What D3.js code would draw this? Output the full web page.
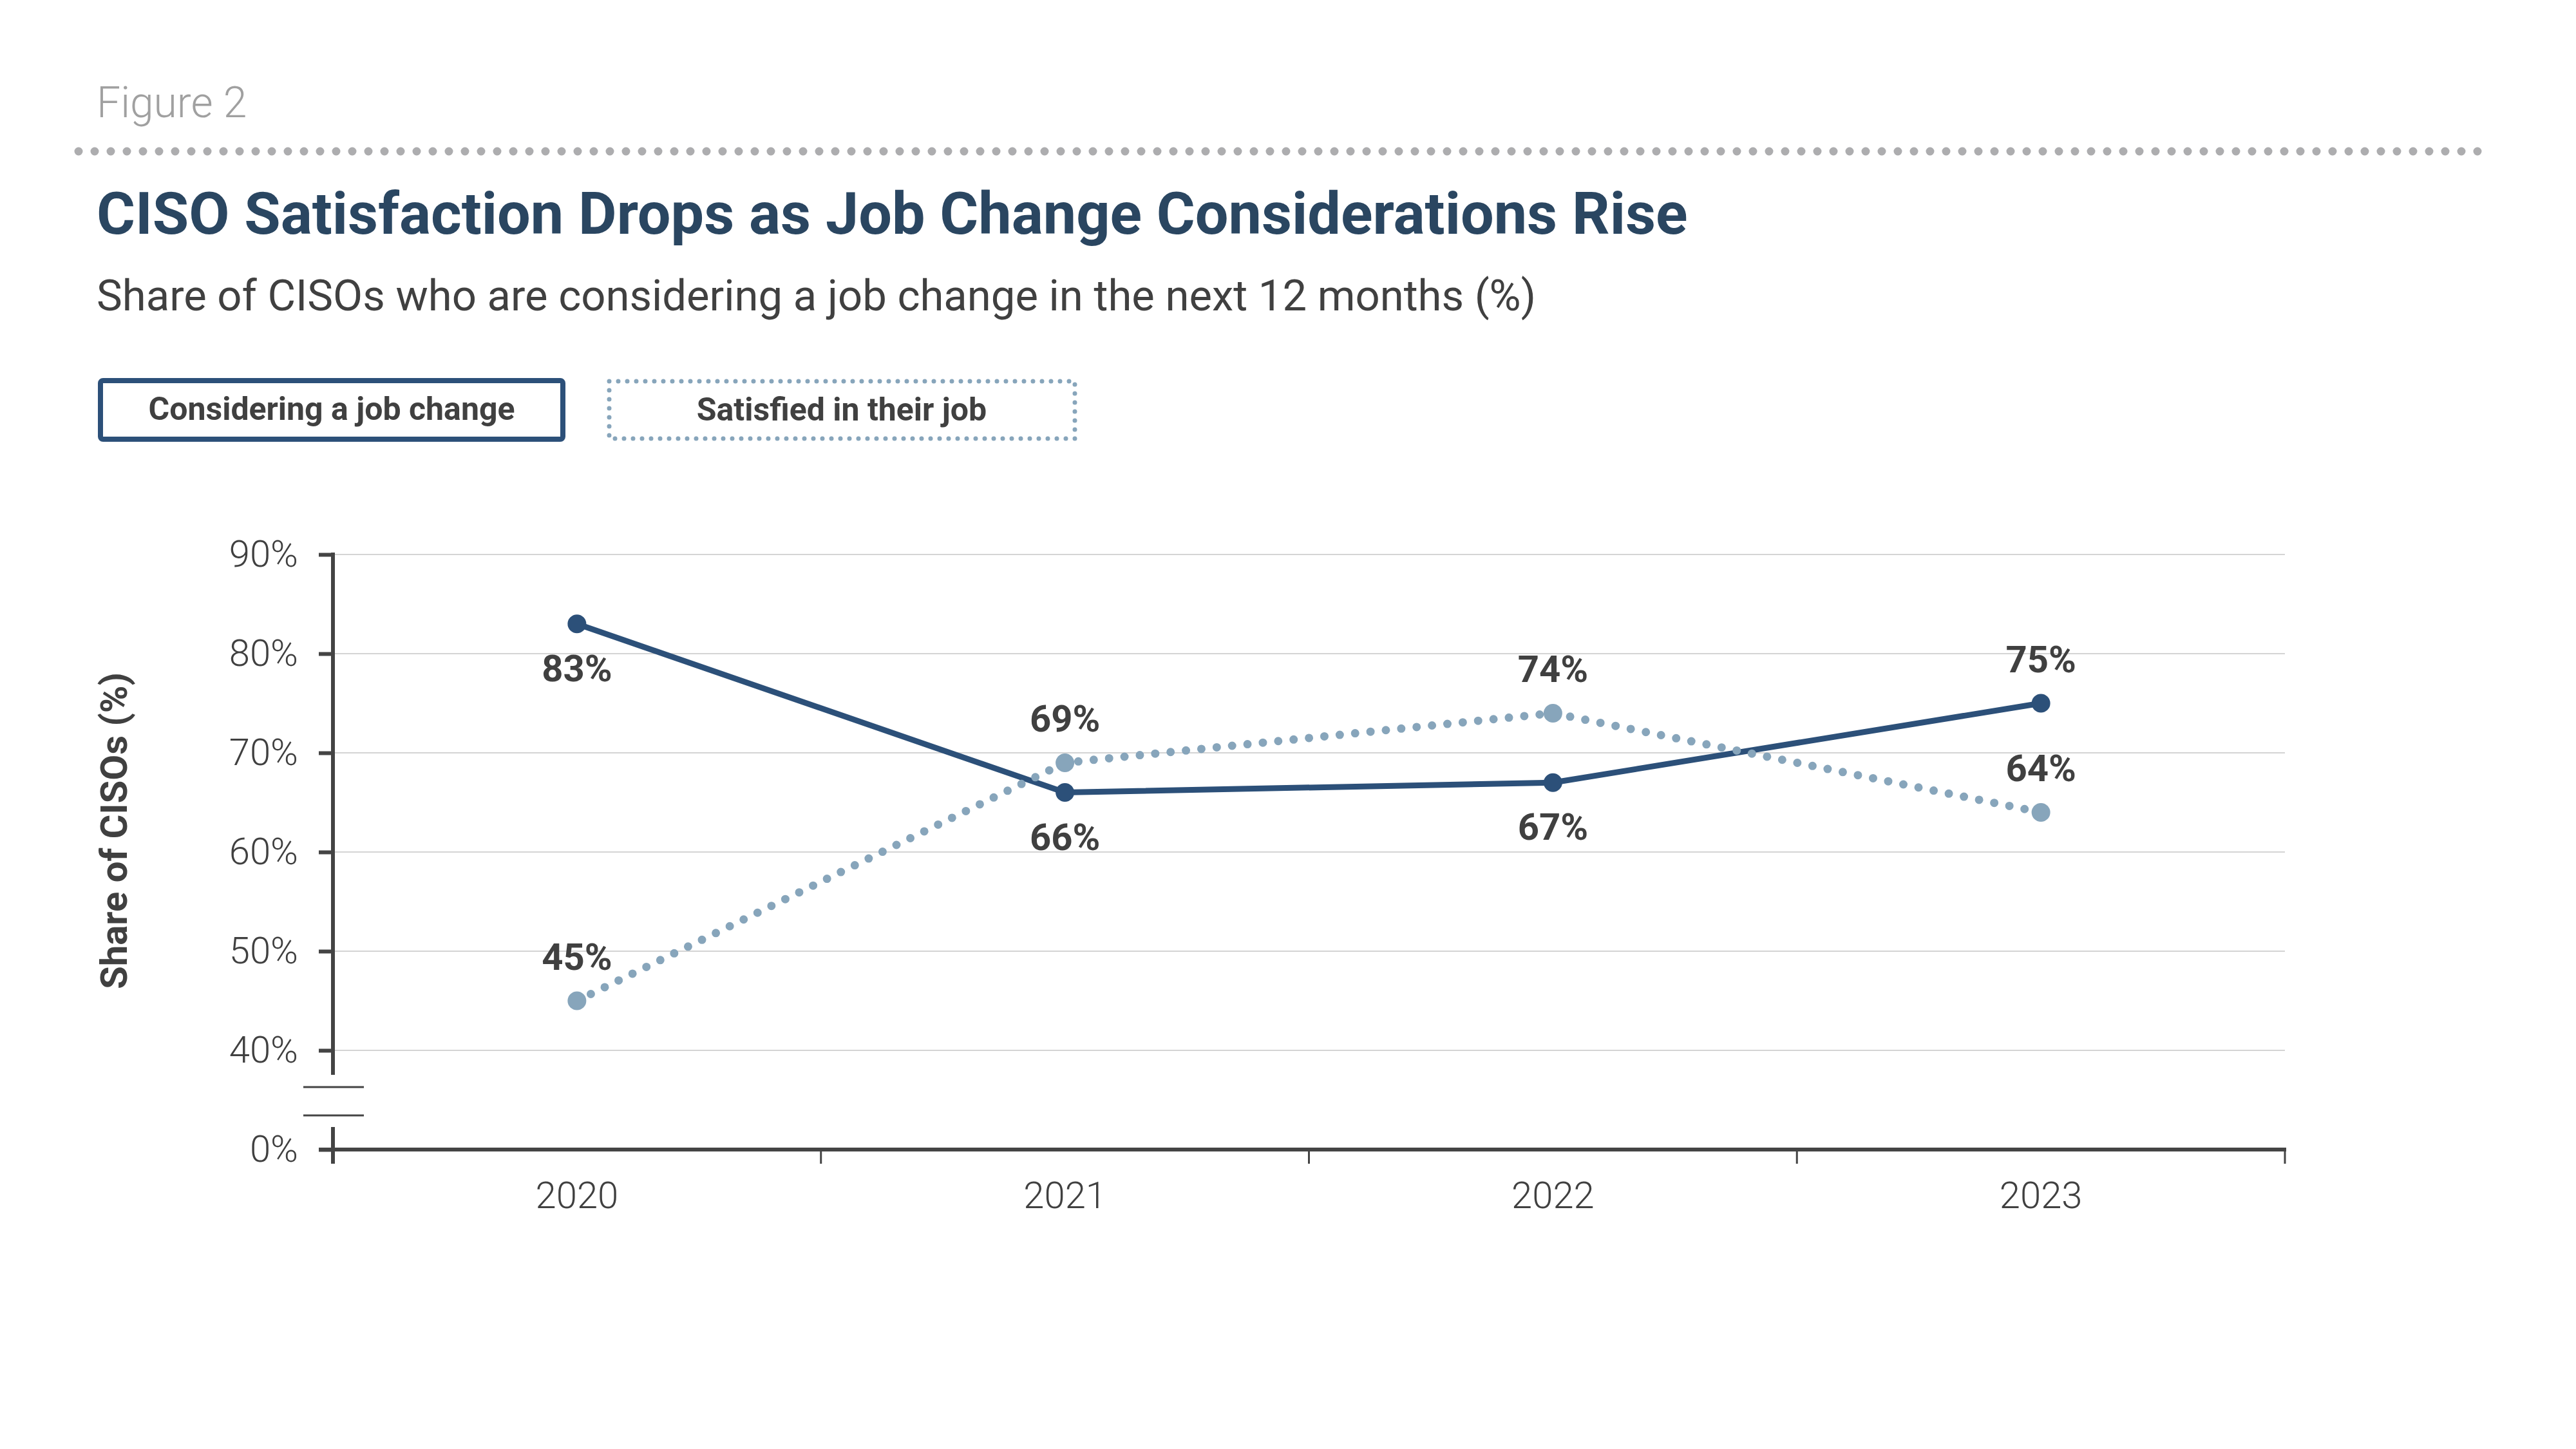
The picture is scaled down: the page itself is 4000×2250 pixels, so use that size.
<!DOCTYPE html>
<head>
<meta charset="utf-8">
<style>
body { margin: 0; background: #fff; }
text { font-family: Roboto, "Noto Sans", sans-serif; }
</style>
</head>
<body>
<script src="https://cdn.jsdelivr.net/npm/d3@7"></script>
<script>
// data
var years = ["2020", "2021", "2022", "2023"];
var considering = [83, 66, 67, 75];
var satisfied = [45, 69, 74, 64];
var yTickValues = [0, 40, 50, 60, 70, 80, 90];
var legendNames = ["Considering a job change", "Satisfied in their job"];

var width = 4000, height = 2250;
var navy = "#2c5079", light = "#87a5bb", ink = "#404040";

var svg = d3.select("body").append("svg")
    .attr("width", width)
    .attr("height", height);
svg.append("rect").attr("width", width).attr("height", height).attr("fill", "#fff");

// header
svg.append("text").attr("x", 150).attr("y", 182)
    .attr("font-size", 66).attr("font-weight", 300).attr("fill", "#a0a0a0")
    .text("Figure 2");
svg.append("line")
    .attr("x1", 122).attr("x2", 3850).attr("y1", 235).attr("y2", 235)
    .attr("stroke", "#adadaf").attr("stroke-width", 13)
    .attr("stroke-linecap", "round").attr("stroke-dasharray", "0 25");
svg.append("text").attr("x", 150).attr("y", 363)
    .attr("font-size", 91.7).attr("font-weight", 700).attr("fill", "#2a4661")
    .text("CISO Satisfaction Drops as Job Change Considerations Rise");
svg.append("text").attr("x", 150).attr("y", 482)
    .attr("font-size", 67).attr("font-weight", 400).attr("fill", ink)
    .text("Share of CISOs who are considering a job change in the next 12 months (%)");

// legend
var lg = svg.append("g");
lg.append("rect").attr("x", 156).attr("y", 591).attr("width", 718).attr("height", 91)
    .attr("rx", 4).attr("fill", "none").attr("stroke", navy).attr("stroke-width", 8);
lg.append("text").attr("x", 515).attr("y", 652).attr("text-anchor", "middle")
    .attr("font-size", 50).attr("font-weight", 700).attr("fill", ink)
    .text(legendNames[0]);
lg.append("rect").attr("x", 946).attr("y", 592).attr("width", 723).attr("height", 89)
    .attr("fill", "none").attr("stroke", light).attr("stroke-width", 7)
    .attr("stroke-linecap", "round").attr("stroke-dasharray", "0 14");
lg.append("text").attr("x", 1307).attr("y", 653).attr("text-anchor", "middle")
    .attr("font-size", 50).attr("font-weight", 700).attr("fill", ink)
    .text(legendNames[1]);

// scales
var x = d3.scaleBand().domain(years).range([517, 3548]);
var y = d3.scaleLinear().domain([0, 40, 90]).range([1785, 1631, 861]);
var cx = function (d) { return x(d) + x.bandwidth() / 2; };

// gridlines
svg.append("g").selectAll("line")
    .data(yTickValues.filter(function (d) { return d > 0; }))
    .join("line")
    .attr("x1", x.range()[0]).attr("x2", x.range()[1])
    .attr("y1", function (d) { return y(d); }).attr("y2", function (d) { return y(d); })
    .attr("stroke", "#c6c6c6").attr("stroke-width", 1.5);

// y axis
var yAxis = svg.append("g")
    .attr("transform", "translate(" + x.range()[0] + ",0)")
    .call(d3.axisLeft(y).tickValues(yTickValues).tickSize(22).tickPadding(32)
        .tickFormat(function (d) { return d + "%"; }));
yAxis.select(".domain").remove();
yAxis.selectAll(".tick line").attr("stroke", "#444").attr("stroke-width", 6);
yAxis.selectAll(".tick text")
    .attr("font-family", "Roboto").attr("font-size", 58).attr("font-weight", 300)
    .attr("fill", ink);

// broken y axis line
var x0 = x.range()[0];
svg.append("line").attr("x1", x0).attr("x2", x0)
    .attr("y1", y(90) - 3).attr("y2", y(40) + 38)
    .attr("stroke", "#444").attr("stroke-width", 6);
svg.append("line").attr("x1", x0).attr("x2", x0)
    .attr("y1", y(0) - 35).attr("y2", y(0) + 22)
    .attr("stroke", "#444").attr("stroke-width", 6);
[57, 101].forEach(function (off) {
    svg.append("line").attr("x1", x0 - 46).attr("x2", x0 + 48)
        .attr("y1", y(40) + off).attr("y2", y(40) + off)
        .attr("stroke", "#444").attr("stroke-width", 3);
});

// x axis
svg.append("line").attr("x1", x0 - 22).attr("x2", x.range()[1] + 2)
    .attr("y1", y(0)).attr("y2", y(0))
    .attr("stroke", "#444").attr("stroke-width", 6);
svg.append("g").selectAll("line")
    .data(years.map(function (d) { return x(d); }).concat([x.range()[1]]).slice(1))
    .join("line")
    .attr("x1", function (d) { return d; }).attr("x2", function (d) { return d; })
    .attr("y1", y(0)).attr("y2", y(0) + 22)
    .attr("stroke", "#444").attr("stroke-width", 3);
var xAxis = svg.append("g")
    .attr("transform", "translate(0," + y(0) + ")")
    .call(d3.axisBottom(x).tickSize(0).tickPadding(50));
xAxis.select(".domain").remove();
xAxis.selectAll(".tick text")
    .attr("font-family", "Roboto").attr("font-size", 58).attr("font-weight", 300)
    .attr("fill", ink);

// y axis title
svg.append("text")
    .attr("transform", "translate(197,1290) rotate(-90)")
    .attr("text-anchor", "middle")
    .attr("font-size", 58).attr("font-weight", 700).attr("fill", ink)
    .text("Share of CISOs (%)");

// series
var series = [
    { values: considering, color: navy, width: 9, dash: null, below: [true, true, true, false] },
    { values: satisfied, color: light, width: 13, dash: "0 24", below: [false, false, false, false] }
];
var line = d3.line()
    .x(function (d) { return cx(d.year); })
    .y(function (d) { return y(d.v); });

series.forEach(function (s) {
    var pts = years.map(function (yr, i) { return { year: yr, v: s.values[i], below: s.below[i] }; });
    svg.append("path").datum(pts)
        .attr("d", line)
        .attr("fill", "none")
        .attr("stroke", s.color)
        .attr("stroke-width", s.width)
        .attr("stroke-linecap", "round")
        .attr("stroke-dasharray", s.dash);
    svg.append("g").selectAll("circle").data(pts).join("circle")
        .attr("cx", function (d) { return cx(d.year); })
        .attr("cy", function (d) { return y(d.v); })
        .attr("r", 14.5)
        .attr("fill", s.color);
    svg.append("g").selectAll("text").data(pts).join("text")
        .attr("x", function (d) { return cx(d.year); })
        .attr("y", function (d) { return y(d.v) + (d.below ? 89 : -48); })
        .attr("text-anchor", "middle")
        .attr("font-size", 58).attr("font-weight", 700).attr("fill", ink)
        .text(function (d) { return d.v + "%"; });
});
</script>
</body>
